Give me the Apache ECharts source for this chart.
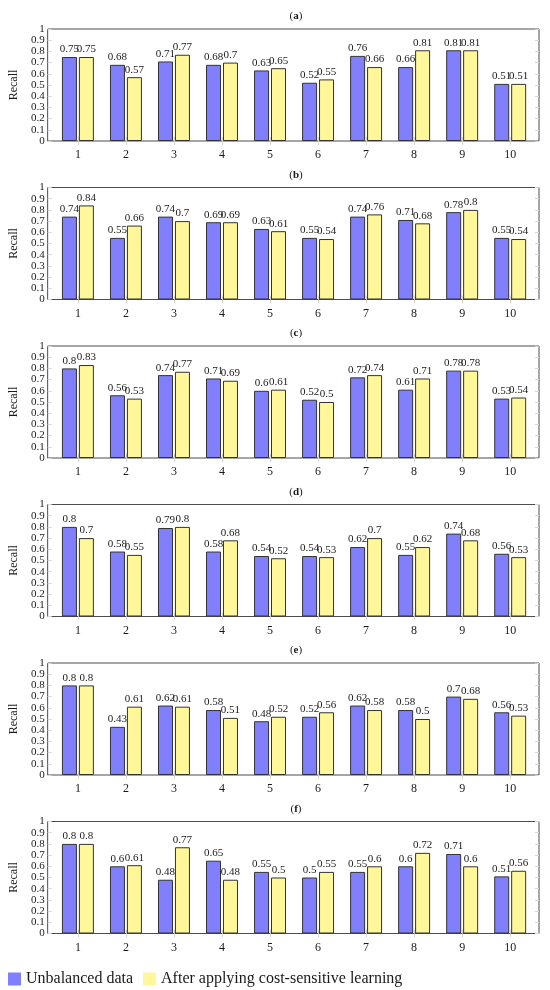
<!DOCTYPE html>
<html>
<head>
<meta charset="utf-8">
<title>Recall</title>
<script src="https://cdn.jsdelivr.net/npm/echarts@6/dist/echarts.min.js"></script>
<style>
  html, body { margin: 0; padding: 0; background: #fff; }
  #chart { width: 550px; height: 990px; }
</style>
</head>
<body>
<div id="chart"></div>
<script>
// 数据
var categories = [1, 2, 3, 4, 5, 6, 7, 8, 9, 10];
var panelNames = ["a", "b", "c", "d", "e", "f"];
var seriesNames = ["Unbalanced data", "After applying cost-sensitive learning"];
var yTicks = [0, 0.1, 0.2, 0.3, 0.4, 0.5, 0.6, 0.7, 0.8, 0.9, 1];

var unbalancedA = [0.75, 0.68, 0.71, 0.68, 0.63, 0.52, 0.76, 0.66, 0.81, 0.51];
var costA = [0.75, 0.57, 0.77, 0.7, 0.65, 0.55, 0.66, 0.81, 0.81, 0.51];
var unbalancedB = [0.74, 0.55, 0.74, 0.69, 0.63, 0.55, 0.74, 0.71, 0.78, 0.55];
var costB = [0.84, 0.66, 0.7, 0.69, 0.61, 0.54, 0.76, 0.68, 0.8, 0.54];
var unbalancedC = [0.8, 0.56, 0.74, 0.71, 0.6, 0.52, 0.72, 0.61, 0.78, 0.53];
var costC = [0.83, 0.53, 0.77, 0.69, 0.61, 0.5, 0.74, 0.71, 0.78, 0.54];
var unbalancedD = [0.8, 0.58, 0.79, 0.58, 0.54, 0.54, 0.62, 0.55, 0.74, 0.56];
var costD = [0.7, 0.55, 0.8, 0.68, 0.52, 0.53, 0.7, 0.62, 0.68, 0.53];
var unbalancedE = [0.8, 0.43, 0.62, 0.58, 0.48, 0.52, 0.62, 0.58, 0.7, 0.56];
var costE = [0.8, 0.61, 0.61, 0.51, 0.52, 0.56, 0.58, 0.5, 0.68, 0.53];
var unbalancedF = [0.8, 0.6, 0.48, 0.65, 0.55, 0.5, 0.55, 0.6, 0.71, 0.51];
var costF = [0.8, 0.61, 0.77, 0.48, 0.5, 0.55, 0.6, 0.72, 0.6, 0.56];

var unbalanced = [unbalancedA, unbalancedB, unbalancedC, unbalancedD, unbalancedE, unbalancedF];
var cost = [costA, costB, costC, costD, costE, costF];

(function () {
  var font = "'Liberation Serif', 'DejaVu Serif', serif";
  var textColor = "#1a1a1a";
  var tickColor = "#d6d6d6";
  var colors = ["#8080ff", "#fff799"];

  var myChart = echarts.init(document.getElementById("chart"));

  var grids = [], xAxes = [], yAxes = [], series = [], titles = [];

  panelNames.forEach(function (name, i) {
    var top = 29 + 158.5 * i;
    grids.push({
      left: 43,
      right: 11,
      top: top,
      height: 112,
      show: true,
      borderColor: "#4d4d4d",
      borderWidth: 1,
    });
    titles.push({
      text: "({b|" + name + "})",
      left: 291,
      textAlign: "center",
      top: top - 23,
      textStyle: {
        fontFamily: font,
        fontSize: 11,
        fontWeight: "normal",
        color: textColor,
        rich: { b: { fontFamily: font, fontSize: 11, fontWeight: "bold", color: textColor } },
      },
    });

    // 底部x轴(标签) + 顶部x轴(只有刻度)
    xAxes.push({
      type: "value",
      gridIndex: i,
      min: 0.37,
      max: 10.6,
      axisLine: { show: false },
      splitLine: { show: false },
      axisTick: {
        show: true,
        inside: true,
        length: 4,
        customValues: categories,
        lineStyle: { color: tickColor },
      },
      axisLabel: {
        customValues: categories,
        margin: 8,
        fontFamily: font,
        fontSize: 12,
        color: textColor,
      },
    });
    xAxes.push({
      type: "value",
      gridIndex: i,
      position: "top",
      min: 0.37,
      max: 10.6,
      axisLine: { show: false },
      splitLine: { show: false },
      axisTick: {
        show: true,
        inside: true,
        length: 4,
        customValues: categories,
        lineStyle: { color: tickColor },
      },
      axisLabel: { show: false },
    });

    // 左y轴 + 右y轴(只有刻度)
    yAxes.push({
      type: "value",
      gridIndex: i,
      min: 0,
      max: 1,
      interval: 0.1,
      name: "Recall",
      nameLocation: "middle",
      nameGap: 23,
      nameTextStyle: { fontFamily: font, fontSize: 12, color: textColor },
      axisLine: { show: false },
      splitLine: { show: false },
      axisTick: { show: true, inside: true, length: 4, lineStyle: { color: tickColor } },
      axisLabel: {
        margin: 3,
        fontFamily: font,
        fontSize: 11,
        color: textColor,
        customValues: yTicks,
      },
    });
    yAxes.push({
      type: "value",
      gridIndex: i,
      position: "right",
      min: 0,
      max: 1,
      interval: 0.1,
      axisLine: { show: false },
      splitLine: { show: false },
      axisTick: { show: true, inside: true, length: 4, lineStyle: { color: tickColor } },
      axisLabel: { show: false },
    });

    [unbalanced[i], cost[i]].forEach(function (vals, k) {
      series.push({
        name: seriesNames[k],
        type: "bar",
        xAxisIndex: i * 2,
        yAxisIndex: i * 2,
        barWidth: 15,
        barGap: "13%",
        data: vals.map(function (v, j) {
          return [categories[j], v];
        }),
        itemStyle: {
          color: colors[k],
          borderColor: "#333",
          borderWidth: 1,
        },
        label: {
          show: true,
          position: "top",
          distance: 2,
          fontFamily: font,
          fontSize: 11,
          color: textColor,
          formatter: function (p) {
            return String(p.value[1]);
          },
        },
        emphasis: { disabled: true },
        animation: false,
      });
    });
  });

  var option = {
    backgroundColor: "#fff",
    animation: false,
    title: titles,
    legend: {
      data: seriesNames,
      left: 3,
      top: 966,
      icon: "rect",
      itemWidth: 13,
      itemHeight: 13,
      itemGap: 10,
      itemStyle: { borderWidth: 0 },
      textStyle: { fontFamily: font, fontSize: 16, color: textColor },
    },
    grid: grids,
    xAxis: xAxes,
    yAxis: yAxes,
    series: series,
  };

  myChart.setOption(option);
  window.addEventListener("resize", function () {
    myChart.resize();
  });
})();
</script>
</body>
</html>
